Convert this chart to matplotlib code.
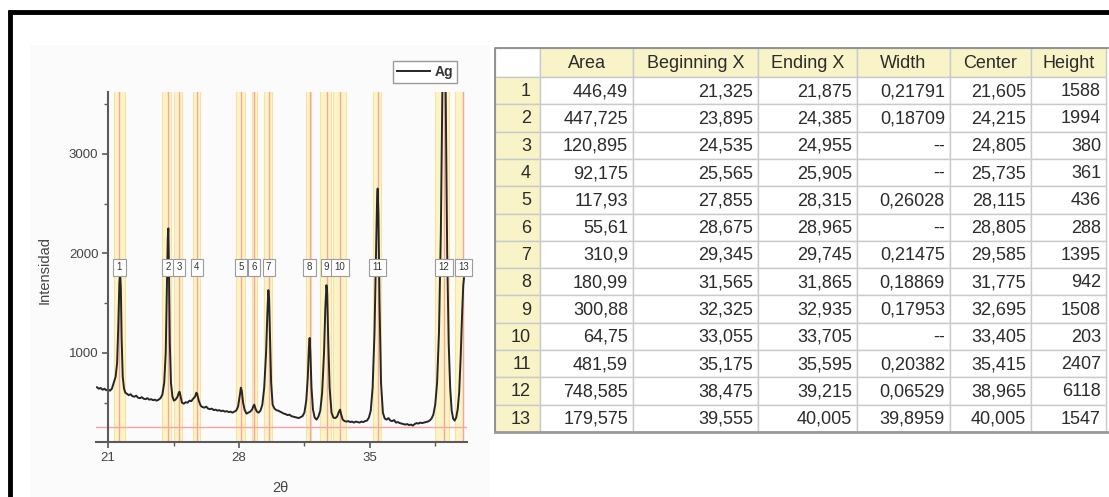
import matplotlib.pyplot as plt
from matplotlib.patches import Rectangle
from matplotlib.ticker import MultipleLocator

plt.rcParams['font.family'] = ['Liberation Sans', 'DejaVu Sans']

# XRD pattern (Ag)
two_theta = [20.40, 20.50, 20.60, 20.70, 20.80, 20.90, 21.00, 21.10, 21.20, 21.30,
             21.40, 21.48, 21.54, 21.60, 21.64, 21.68, 21.72, 21.78, 21.85, 21.92,
             22.00, 22.10, 22.20, 22.30, 22.40, 22.50, 22.60, 22.70, 22.80, 22.90,
             23.00, 23.10, 23.20, 23.30, 23.40, 23.50, 23.60, 23.70, 23.80, 23.90,
             24.00, 24.08, 24.14, 24.19, 24.22, 24.25, 24.30, 24.36, 24.44, 24.52,
             24.60, 24.70, 24.78, 24.82, 24.88, 24.95, 25.05, 25.15, 25.25, 25.35,
             25.45, 25.55, 25.65, 25.72, 25.76, 25.85, 25.95, 26.05, 26.15, 26.25,
             26.35, 26.45, 26.55, 26.65, 26.75, 26.85, 26.95, 27.05, 27.15, 27.25,
             27.35, 27.45, 27.55, 27.65, 27.75, 27.85, 27.95, 28.05, 28.10, 28.15,
             28.22, 28.30, 28.40, 28.50, 28.60, 28.70, 28.78, 28.82, 28.88, 28.96,
             29.05, 29.15, 29.25, 29.35, 29.45, 29.52, 29.57, 29.61, 29.66, 29.72,
             29.80, 29.90, 30.00, 30.10, 30.20, 30.30, 30.40, 30.50, 30.60, 30.70,
             30.80, 30.90, 31.00, 31.10, 31.20, 31.30, 31.40, 31.50, 31.60, 31.68,
             31.74, 31.78, 31.82, 31.88, 31.96, 32.05, 32.15, 32.25, 32.35, 32.45,
             32.55, 32.62, 32.68, 32.72, 32.78, 32.85, 32.95, 33.05, 33.15, 33.25,
             33.35, 33.41, 33.47, 33.55, 33.65, 33.75, 33.85, 33.95, 34.05, 34.15,
             34.25, 34.35, 34.45, 34.55, 34.65, 34.75, 34.85, 34.95, 35.05, 35.15,
             35.25, 35.33, 35.39, 35.42, 35.46, 35.52, 35.60, 35.70, 35.80, 35.90,
             36.00, 36.10, 36.20, 36.30, 36.40, 36.50, 36.60, 36.70, 36.80, 36.90,
             37.00, 37.10, 37.20, 37.30, 37.40, 37.50, 37.60, 37.70, 37.80, 37.90,
             38.00, 38.10, 38.20, 38.30, 38.40, 38.50, 38.60, 38.70, 38.80, 38.88,
             38.93, 38.97, 39.01, 39.06, 39.14, 39.22, 39.30, 39.38, 39.46, 39.54,
             39.62, 39.70, 39.78, 39.86, 39.94, 40.00, 40.04]
intensity = [655, 640, 648, 630, 640, 625, 635, 620, 640, 700,
             760, 900, 1250, 1700, 1810, 1650, 1150, 760, 640, 600,
             590, 575, 585, 565, 560, 570, 550, 545, 555, 540,
             535, 545, 530, 535, 525, 530, 520, 530, 545, 580,
             700, 1000, 1600, 2150, 2250, 1900, 1100, 700, 560, 520,
             530, 555, 600, 610, 560, 500, 490, 505, 500, 520,
             515, 540, 560, 600, 590, 520, 470, 455, 450, 460,
             440, 435, 440, 425, 430, 420, 425, 415, 420, 410,
             415, 405, 410, 400, 410, 420, 460, 580, 650, 620,
             500, 430, 390, 400, 410, 430, 470, 480, 440, 410,
             400, 420, 480, 650, 1000, 1400, 1630, 1550, 1150, 700,
             480, 440, 425, 420, 410, 400, 390, 385, 375, 380,
             365, 360, 355, 350, 345, 355, 365, 400, 520, 750,
             1050, 1150, 1000, 650, 430, 350, 330, 360, 420, 600,
             1000, 1450, 1680, 1600, 1100, 650, 400, 350, 345, 360,
             410, 430, 380, 330, 315, 310, 315, 305, 310, 300,
             310, 305, 300, 310, 305, 315, 320, 350, 420, 650,
             1200, 2000, 2550, 2650, 2400, 1500, 700, 400, 340, 330,
             345, 320, 315, 325, 300, 305, 295, 290, 285, 280,
             285, 275, 280, 270, 285, 295, 290, 300, 295, 300,
             305, 310, 320, 340, 380, 480, 700, 1200, 2200, 3600,
             5500, 6300, 5500, 3600, 2000, 1100, 650, 420, 340, 320,
             350, 430, 600, 950, 1400, 1680, 1750]
baseline_y = 255

# peak analysis table
peak_id = list(range(1, 14))
area = [446.49, 447.725, 120.895, 92.175, 117.93, 55.61, 310.9,
        180.99, 300.88, 64.75, 481.59, 748.585, 179.575]
begin_x = [21.325, 23.895, 24.535, 25.565, 27.855, 28.675, 29.345,
           31.565, 32.325, 33.055, 35.175, 38.475, 39.555]
end_x = [21.875, 24.385, 24.955, 25.905, 28.315, 28.965, 29.745,
         31.865, 32.935, 33.705, 35.595, 39.215, 40.005]
width = [0.21791, 0.18709, None, None, 0.26028, None, 0.21475,
         0.18869, 0.17953, None, 0.20382, 0.06529, 39.8959]
center = [21.605, 24.215, 24.805, 25.735, 28.115, 28.805, 29.585,
          31.775, 32.695, 33.405, 35.415, 38.965, 40.005]
height = [1588, 1994, 380, 361, 436, 288, 1395, 942, 1508, 203, 2407, 6118, 1547]
col_names = ['', 'Area', 'Beginning X', 'Ending X', 'Width', 'Center', 'Height']

W, H = 1109, 497
fig = plt.figure(figsize=(W / 100, H / 100), dpi=100)

def fx(px):
    return px / W

def fy(py):
    return 1 - py / H

# overlay in pixel units for the window frame and the worksheet
ov = fig.add_axes([0, 0, 1, 1])
ov.set_xlim(0, W)
ov.set_ylim(H, 0)
ov.axis('off')
ov.add_patch(Rectangle((30, 45), 460, 460, fc='#fbfbfb', ec='none'))
ov.plot([8, W], [11.5, 11.5], color='black', lw=3.5, solid_capstyle='butt')
ov.plot([9.5, 9.5], [10, H], color='black', lw=3.5, solid_capstyle='butt')

# ---- graph ----
ax = fig.add_axes([fx(96), fy(442), fx(467) - fx(96), fy(92) - fy(442)])
ax.set_facecolor('none')
for b, e, c in zip(begin_x, end_x, center):
    ax.axvspan(b, e, color='#fdf4c6', lw=0, zorder=0)
    ax.axvline(b, color='#f6e3a2', lw=0.8, zorder=0.5)
    ax.axvline(e, color='#f6e3a2', lw=0.8, zorder=0.5)
    ax.axvline(c, color='#f2a6a0', lw=1.0, zorder=0.6)
ax.axhline(baseline_y, color='#f4a4a4', lw=1.0, zorder=0.7)
line, = ax.plot(two_theta, intensity, color='#262626', lw=1.4, zorder=2)
for i, c in zip(peak_id, center):
    ax.text(c, 1860, str(i), ha='center', va='center', fontsize=7, color='#333333',
            zorder=3, bbox=dict(boxstyle='square,pad=0.35', fc='white', ec='#9a9a9a', lw=0.8))

ax.set_xlim(20.35, 40.2)
ax.set_ylim(105, 3620)
ax.spines['top'].set_visible(False)
ax.spines['right'].set_visible(False)
ax.spines['left'].set_position(('data', 21))
for s in ('left', 'bottom'):
    ax.spines[s].set_color('#5a5a5a')
    ax.spines[s].set_linewidth(1.5)
ax.xaxis.set_major_locator(MultipleLocator(7))
ax.xaxis.set_minor_locator(MultipleLocator(3.5))
ax.set_xticks([21, 28, 35])
ax.yaxis.set_major_locator(MultipleLocator(1000))
ax.yaxis.set_minor_locator(MultipleLocator(500))
ax.tick_params(which='major', length=4, width=1.2, color='#5a5a5a',
               labelsize=9.5, labelcolor='#444444', pad=3)
ax.tick_params(which='minor', length=3, width=1.0, color='#5a5a5a')
ax.set_ylabel('Intensidad', fontsize=10.5, color='#444444')
ax.yaxis.set_label_coords(-0.12, 0.49)
ax.set_xlabel('2θ', fontsize=10.5, color='#444444')
ax.xaxis.set_label_coords(0.496, -0.11)

fig.legend(handles=[line], labels=['Ag'], loc='upper right',
           bbox_to_anchor=(fx(464), fy(54)), prop={'size': 10, 'weight': 'bold'},
           handlelength=2.4, handletextpad=0.3, borderpad=0.3, fancybox=False,
           edgecolor='#9a9a9a', framealpha=1, labelcolor='#333333')

# ---- worksheet ----
col_edges = [495, 540, 633, 758, 857, 950, 1031, 1106]
top, head_h, row_h = 48, 29, 27.3
yellow = '#f8f4c8'
n_rows = len(peak_id)

def fmt(v):
    if v is None:
        return '--'
    return f'{v:g}'.replace('.', ',')

rows = []
for k in range(n_rows):
    rows.append([str(peak_id[k]), fmt(area[k]), fmt(begin_x[k]), fmt(end_x[k]),
                 fmt(width[k]), fmt(center[k]), str(height[k])])

for j in range(len(col_names)):
    x0, x1 = col_edges[j], col_edges[j + 1]
    fc = 'white' if j == 0 else yellow
    ov.add_patch(Rectangle((x0, top), x1 - x0, head_h, fc=fc, ec='#cacaca', lw=1))
    ov.text((x0 + x1) / 2, top + head_h / 2 + 1, col_names[j], ha='center', va='center',
            fontsize=13, color='#2b2b2b')
    for k in range(n_rows):
        y0 = top + head_h + k * row_h
        fc = yellow if j == 0 else 'white'
        ov.add_patch(Rectangle((x0, y0), x1 - x0, row_h, fc=fc, ec='#cacaca', lw=1))
        pad = 9 if j == 0 else 5
        ov.text(x1 - pad, y0 + row_h / 2 + 1, rows[k][j], ha='right', va='center',
                fontsize=13, color='#2b2b2b')

bottom = top + head_h + n_rows * row_h
ov.plot([col_edges[0], col_edges[0], W], [bottom, top, top], color='#8c8c8c', lw=1.3)
ov.plot([col_edges[0], W], [bottom, bottom], color='#9a9a9a', lw=2)

fig.savefig('out.png', dpi=100)
